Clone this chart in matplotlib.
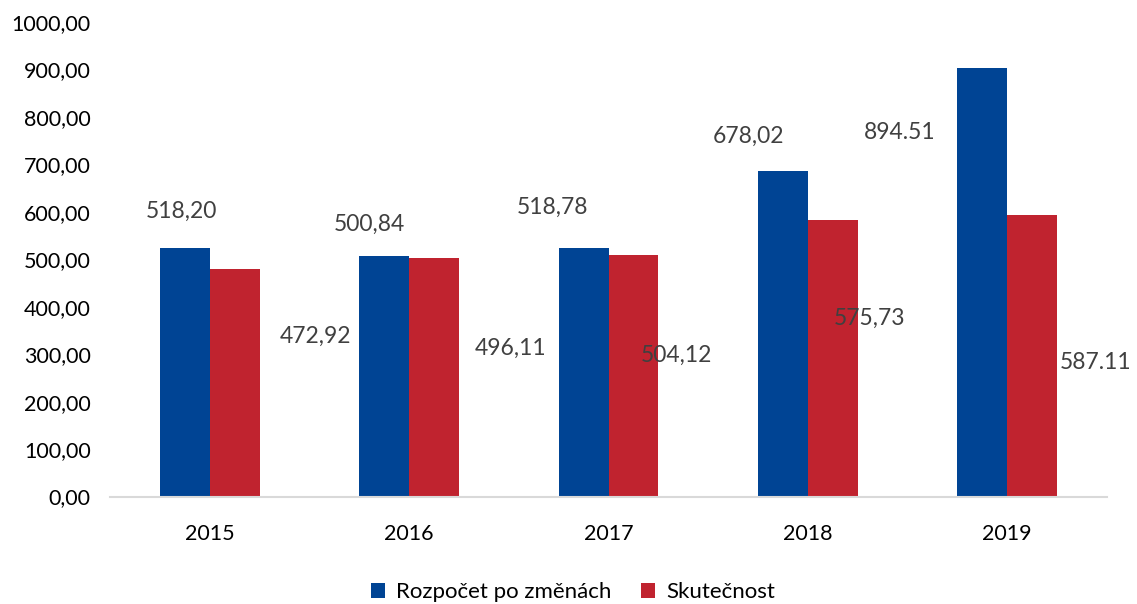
import matplotlib
matplotlib.use("Agg")
import matplotlib.pyplot as plt
import numpy as np

# data
years = ["2015", "2016", "2017", "2018", "2019"]
rozpocet = [524, 507, 524, 686, 904]
skutecnost = [479, 502, 510, 582, 593]
rozpocet_labels = ["518,20", "500,84", "518,78", "678,02", "894.51"]
skutecnost_labels = ["472,92", "496,11", "504,12", "575,73", "587.11"]
yticks = [0, 100, 200, 300, 400, 500, 600, 700, 800, 900, 1000]

# label placement (offset from category centre, height in data units)
roz_lab_dx = [-0.14, -0.20, -0.28, -0.30, -0.54]
roz_lab_y = [600, 574, 610, 758, 768]
sku_lab_dx = [0.53, 0.51, 0.34, 0.31, 0.445]
sku_lab_y = [338, 313, 298, 376, 283]

BLUE = "#004494"
RED = "#C0232F"

plt.rcParams["font.family"] = ["Lato", "DejaVu Sans"]

fig = plt.figure(figsize=(11.37, 6.04), dpi=100)
ax = fig.add_axes([110 / 1137, 107.5 / 604, 997 / 1137, 474.5 / 604])

x = np.arange(len(years))
w = 0.25
ax.bar(x - w / 2, rozpocet, w, color=BLUE, label="Rozpočet po změnách")
ax.bar(x + w / 2, skutecnost, w, color=RED, label="Skutečnost")

for i in range(len(years)):
    ax.text(x[i] + roz_lab_dx[i], roz_lab_y[i], rozpocet_labels[i],
            ha="center", va="center", fontsize=16.5, color="#404040")
    ax.text(x[i] + sku_lab_dx[i], sku_lab_y[i], skutecnost_labels[i],
            ha="center", va="center", fontsize=16.5, color="#404040")

ax.set_xlim(-0.5, len(years) - 0.5)
ax.set_ylim(0, 1000)
ax.set_yticks(yticks)
ax.set_yticklabels([f"{v:.2f}".replace(".", ",") for v in yticks])
ax.set_xticks(x)
ax.set_xticklabels(years)
ax.tick_params(axis="both", length=0, labelsize=15.5, colors="#000000")
ax.tick_params(axis="x", pad=20)
ax.tick_params(axis="y", pad=14)

for s in ["top", "right", "left"]:
    ax.spines[s].set_visible(False)
ax.spines["bottom"].set_color("#D9D9D9")
ax.spines["bottom"].set_linewidth(1.5)

fig.legend(loc="center", bbox_to_anchor=(573 / 1137, 1 - 592 / 604), ncol=2,
           frameon=False, fontsize=16, handlelength=0.65, handleheight=0.65,
           handletextpad=0.5, columnspacing=1.3)

fig.savefig("out.png", dpi=100)
